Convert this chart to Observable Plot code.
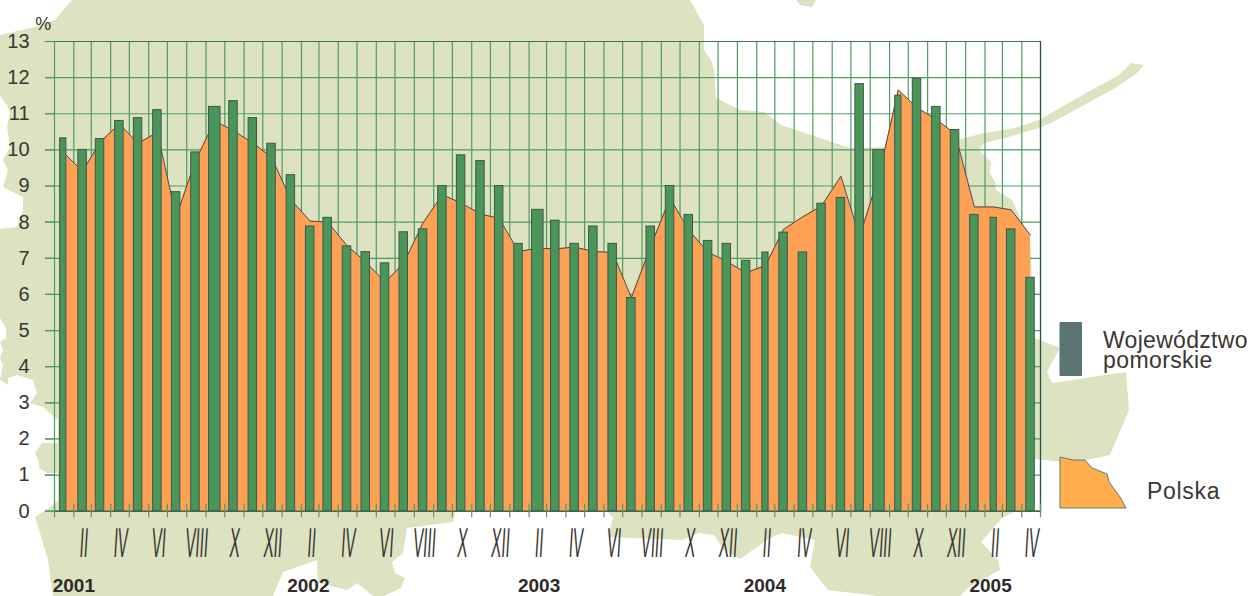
<!DOCTYPE html>
<html lang="pl">
<head>
<meta charset="utf-8">
<title>Stopa bezrobocia</title>
<script src="https://cdn.jsdelivr.net/npm/d3@7"></script>
<script src="https://cdn.jsdelivr.net/npm/@observablehq/plot@0.6"></script>
<style>
  html, body { margin: 0; padding: 0; background: #fff; }
  #stage { position: relative; width: 1249px; height: 596px; overflow: hidden; }
  #stage svg { position: absolute; left: 0; top: 0; display: block; }
</style>
</head>
<body>
<div id="stage"></div>
<script>
// ---- data (Jan 2001 – Apr 2005, one value per month) ----
const pomorskie = [
  10.32, 10.0, 10.3, 10.8, 10.88, 11.1, 8.83, 9.93, 11.19, 11.35, 10.88, 10.17,
  9.3, 7.88, 8.12, 7.33, 7.17, 6.86, 7.72, 7.8, 9.0, 9.85, 9.69, 9.0,
  7.4, 8.34, 8.04, 7.4, 7.88, 7.4, 5.9, 7.88, 9.0, 8.2, 7.48, 7.4,
  6.93, 7.16, 7.71, 7.16, 8.51, 8.67, 11.82, 10.0, 11.5, 11.97, 11.19, 10.55,
  8.2, 8.12, 7.8, 6.46
];
const polska = [
  9.93, 9.41, 10.21, 10.72, 10.18, 10.49, 8.14, 9.7, 10.8, 10.53, 10.19, 9.8,
  8.62, 8.03, 8.0, 7.35, 6.9, 6.34, 6.86, 7.98, 8.76, 8.53, 8.23, 8.1,
  7.19, 7.28, 7.26, 7.31, 7.19, 7.16, 5.91, 7.33, 8.66, 7.78, 7.17, 6.91,
  6.6, 6.8, 7.8, 8.15, 8.45, 9.27, 7.6, 9.29, 11.66, 11.17, 10.84, 10.45,
  8.42, 8.42, 8.34, 7.64
];
const yearLabels = ["2001", "2002", "2003", "2004", "2005"];
const romanMonths = ["II", "IV", "VI", "VIII", "X", "XII"];
const yTicks = [0,1,2,3,4,5,6,7,8,9,10,11,12,13];
const legendRegion = ["Województwo", "pomorskie"];
const legendCountry = "Polska";

// ---- decorative map behind the chart (page pixels) ----
const mapOutline = [
  [72,0],[690,0],[704,25],[704,50],[711,60],[714,70],[716,98],[740,110],[764,112],[781,125],[850,148],[884,147],
  [957,140],[984,133],[1015,128],[1039,120],[1051,113],[1088,92],[1119,75],[1131,63],[1144,65],[1136,74],[1115,88],
  [1053,122],[1039,128],[1005,138],[984,143],[979,150],[991,162],[990,173],[995,182],[996,190],[1012,200],[1020,217],
  [1030,240],[1035,338],[1060,348],[1055,357],[1047,372],[1052,383],[1126,372],[1129,410],[1110,455],[1087,460],
  [1063,462],[1035,459],[1035,505],[1014,512],[1002,518],[981,542],[998,560],[1000,570],[969,587],[960,596],[877,596],
  [828,590],[810,567],[815,540],[782,533],[770,538],[740,559],[724,550],[714,535],[699,533],[683,540],[608,537],
  [613,518],[608,512],[455,512],[453,522],[407,528],[403,553],[392,562],[395,573],[405,578],[401,588],[384,596],
  [373,596],[357,583],[347,590],[318,583],[317,560],[283,572],[273,596],[53,596],[48,560],[40,533],[35,517],[53,505],
  [58,500],[58,473],[47,473],[39,468],[39,462],[35,453],[42,443],[58,443],[58,420],[43,407],[30,403],[37,393],[33,380],
  [17,375],[8,378],[8,385],[0,380],[3,365],[0,358],[3,350],[0,342],[6,338],[6,328],[0,318],[0,229],[17,227],[23,210],
  [23,197],[3,187],[8,170],[3,160],[10,147],[7,127],[10,113],[7,105],[0,96],[0,35],[35,27],[55,20]
];
const mapIslet = [[796,0],[800,5],[812,7],[816,0]];
const legendShape = [[1060,457],[1073,460],[1085,460],[1092,468],[1107,474],[1109,482],[1120,497],[1126,508],[1060,508]];

// ---- colours ----
const GREEN = "#4a9658", BAR_EDGE = "#3f5552", GRID = "#4f9c62", ORANGE = "#ffa155",
      LAND = "#dde2c1", INK = "#3a3634", FRAME = "#2f4f45";

// ---- tables ----
const DAY = 864e5;
const monthStart = i => new Date(Date.UTC(2001, i, 1));
const rows = pomorskie.map((v, i) => ({ i, start: monthStart(i), pomorskie: v, polska: polska[i] }));
const mid = i => new Date(+monthStart(i) + 14 * DAY);
const edges = d3.range(0, 53).map(monthStart);

// a few bars are wider or narrower than the rest in the source drawing
const wideBars = new Set([8, 25, 43]);
const narrowBars = new Set([0, 37, 44, 49]);
const halfDays = i => wideBars.has(i) ? 9.2 : narrowBars.has(i) ? 5 : 6.8;

const roman = d3.range(0, 52).filter(i => i % 2 === 1)
  .map(i => ({ x: mid(i), label: romanMonths[((i - 1) / 2) % 6] }));
const yearAt = [Date.UTC(2001,1,1), Date.UTC(2002,1,12), Date.UTC(2003,1,17), Date.UTC(2004,1,14), Date.UTC(2005,1,10)];
const years = yearLabels.map((label, k) => ({ label, x: new Date(yearAt[k]) }));

// squeezes text marks the way the source's condensed labels are drawn
const stretch = (sx, sy, skew) => (index, scales, values, dims, context, next) => {
  const g = next(index, scales, values, dims, context);
  g.querySelectorAll("text").forEach(t =>
    t.setAttribute("transform", `${t.getAttribute("transform") || ""} skewX(${skew}) scale(${sx},${sy})`));
  return g;
};

const xStart = edges[0], xEnd = edges[52];
const tickStart = new Date(+xStart - 14.5 * DAY);

const plot = Plot.plot({
  width: 1249,
  height: 596,
  marginLeft: 54,
  marginRight: 209,
  marginTop: 41,
  marginBottom: 85.3,
  style: { background: "transparent", fontFamily: "'Liberation Sans', Arial, sans-serif" },
  x: { type: "utc", domain: [xStart, xEnd], axis: null },
  y: { domain: [0, 13], axis: null },
  marks: [
    // grid with its outer ticks
    Plot.ruleY(yTicks, { y: d => d, x1: tickStart, x2: xEnd, stroke: GRID, strokeWidth: 1.2 }),
    Plot.ruleX(edges, { x: d => d, y1: 0, y2: 13, stroke: GRID, strokeWidth: 1.2 }),

    // Polska
    Plot.areaY(rows, { x: d => mid(d.i), y: "polska", fill: ORANGE, curve: "linear" }),
    Plot.lineY(rows, { x: d => mid(d.i), y: "polska", stroke: "#4a4a48", strokeWidth: 1, curve: "linear" }),

    // województwo pomorskie
    Plot.rectY(rows, {
      x1: d => new Date(+mid(d.i) - halfDays(d.i) * DAY),
      x2: d => new Date(+mid(d.i) + halfDays(d.i) * DAY),
      y1: 0,
      y2: "pomorskie",
      fill: GREEN,
      stroke: BAR_EDGE,
      strokeWidth: 1
    }),

    // frame and month ticks in front of the bars
    Plot.ruleY([0], { y: d => d, x1: xStart, x2: xEnd, stroke: "#3d6b52", strokeWidth: 1.6 }),
    Plot.ruleY([13], { y: d => d, x1: xStart, x2: xEnd, stroke: "#3f7558", strokeWidth: 1.2 }),
    Plot.ruleX([xEnd], { x: d => d, y1: 0, y2: 13, stroke: FRAME, strokeWidth: 1.2 }),
    Plot.ruleX(edges, { x: d => d, y1: -0.18, y2: 0.2, stroke: GRID, strokeWidth: 1.2 }),
    Plot.ruleY(yTicks, { y: d => d, x1: tickStart, x2: xStart, stroke: GRID, strokeWidth: 1.2 }),

    // axis texts
    Plot.text(yTicks, { y: d => d, x: new Date(+xStart - 40 * DAY), text: d => String(d), textAnchor: "end",
      fontSize: 20, fill: INK }),
    Plot.text(["%"], { x: new Date(+xStart - 18 * DAY), y: 13.33, text: d => d, fontSize: 18, fill: INK, lineAnchor: "bottom" }),
    Plot.text(roman, { x: "x", y: -0.9, dx: 1.5, text: "label", fontSize: 42, fill: INK, render: stretch(0.36, 1, -3.5) }),
    Plot.text(years, { x: "x", y: -2.07, text: "label", fontSize: 19, fontWeight: "bold", fill: "#2e2a28" })
  ]
});

// ---- background map and right-hand legend ----
const stage = document.getElementById("stage");
const NS = "http://www.w3.org/2000/svg";
const layer = () => {
  const s = document.createElementNS(NS, "svg");
  s.setAttribute("width", 1249); s.setAttribute("height", 596);
  return s;
};
const poly = (pts, attrs) => {
  const p = document.createElementNS(NS, "polygon");
  p.setAttribute("points", pts.map(q => q.join(",")).join(" "));
  Object.entries(attrs).forEach(([k, v]) => p.setAttribute(k, v));
  return p;
};
const back = layer();
back.append(poly(mapOutline, { fill: LAND }), poly(mapIslet, { fill: LAND }));

const front = layer();
const rect = document.createElementNS(NS, "rect");
[["x",1059.5],["y",322],["width",22.5],["height",54],["rx",1],["fill","#5a7571"]].forEach(([k,v]) => rect.setAttribute(k,v));
front.append(rect, poly(legendShape, { fill: "#ffad4d", stroke: "#5f7d78", "stroke-width": 1 }));
const label = (txt, x, y, spacing) => {
  const t = document.createElementNS(NS, "text");
  t.textContent = txt;
  t.setAttribute("x", x); t.setAttribute("y", y);
  t.setAttribute("font-family", "'Liberation Sans', Arial, sans-serif");
  t.setAttribute("font-size", 23);
  t.setAttribute("fill", INK);
  t.setAttribute("letter-spacing", spacing);
  return t;
};
front.append(
  label(legendRegion[0], 1103, 348, 0.3),
  label(legendRegion[1], 1103, 368, 0.4),
  label(legendCountry, 1147, 499, 0.7)
);
stage.append(back, plot, front);
</script>
</body>
</html>
